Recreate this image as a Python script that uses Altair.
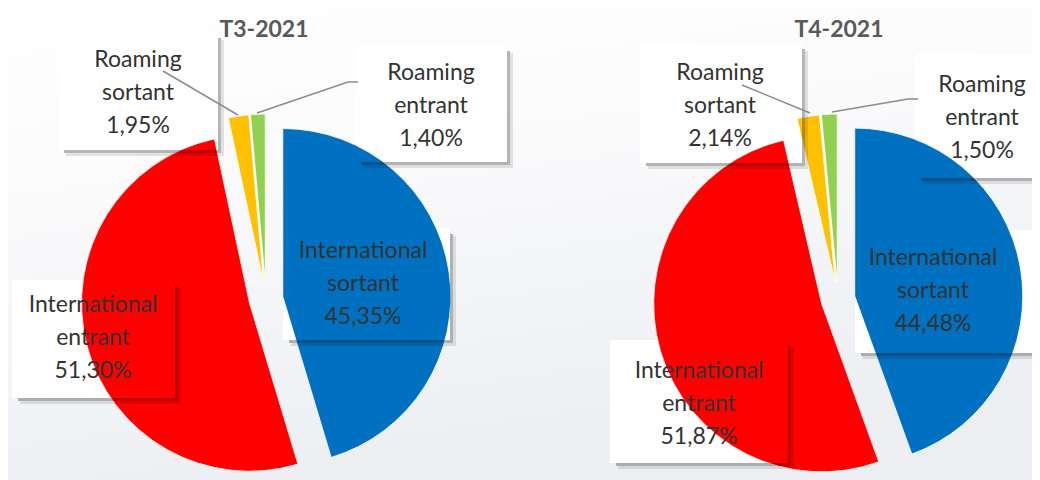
import altair as alt
import pandas as pd

# ---------------- data ----------------
quarters = ["T3-2021", "T4-2021"]
categories = ["International sortant", "International entrant", "Roaming sortant", "Roaming entrant"]
t3_values = [45.35, 51.30, 1.95, 1.40]
t4_values = [44.48, 51.87, 2.14, 1.50]
colors = ["#0070C0", "#FF0000", "#FFC000", "#92D050"]

# ---------------- layout (page pixel coordinates) ----------------
W, H = 1024, 472
pie_centers = {"T3-2021": (266, 299), "T4-2021": (838, 299)}
R = 168
EXPLODE = 17
title_pos = {"T3-2021": (264, 37), "T4-2021": (839, 37)}
LINE_H = 33
# box x1, y1, x2, y2, text centre x, first baseline y
label_layout = {
    ("T3-2021", "Roaming sortant"): (58, 32, 218, 150, 138, 67),
    ("T3-2021", "Roaming entrant"): (355, 45, 507, 162, 431, 80),
    ("T3-2021", "International sortant"): (283, 228, 450, 340, 363, 258),
    ("T3-2021", "International entrant"): (12, 280, 175, 398, 93, 312),
    ("T4-2021", "Roaming sortant"): (640, 43, 802, 163, 720, 80),
    ("T4-2021", "Roaming entrant"): (915, 53, 1060, 178, 982, 92),
    ("T4-2021", "International sortant"): (855, 230, 1060, 353, 933, 265),
    ("T4-2021", "International entrant"): (610, 340, 788, 463, 699, 378),
}
leaders = {
    ("T3-2021", "Roaming sortant"): [(163, 71), (238, 115)],
    ("T3-2021", "Roaming entrant"): [(358, 82), (348, 82), (257, 113)],
    ("T4-2021", "Roaming sortant"): [(742, 85), (810, 113)],
    ("T4-2021", "Roaming entrant"): [(918, 99), (908, 99), (832, 112)],
}

values_by_q = {"T3-2021": t3_values, "T4-2021": t4_values}


def fmt(v):
    return f"{v:.2f}".replace(".", ",") + "%"


# pie table
pie_rows = []
for q in quarters:
    cx, cy = pie_centers[q]
    for i, (c, v) in enumerate(zip(categories, values_by_q[q])):
        pie_rows.append({"quarter": q, "category": c, "value": v, "order": i, "cx": cx, "cy": cy})
pie_df = pd.DataFrame(pie_rows)

# label tables
box_rows, text_rows, shadow_in, shadow_out = [], [], [], []
for q in quarters:
    for c, v in zip(categories, values_by_q[q]):
        x1, y1, x2, y2, tx, ty = label_layout[(q, c)]
        box_rows.append({"x1": x1, "y1": y1, "x2": x2, "y2": y2})
        shadow_in.append({"x1": x2, "y1": y1 + 6, "x2": x2 + 3, "y2": y2 + 3})
        shadow_in.append({"x1": x1 + 6, "y1": y2, "x2": x2, "y2": y2 + 3})
        shadow_out.append({"x1": x2 + 3, "y1": y1 + 8, "x2": x2 + 6, "y2": y2 + 6})
        shadow_out.append({"x1": x1 + 8, "y1": y2 + 3, "x2": x2 + 3, "y2": y2 + 6})
        lines = c.split(" ") + [fmt(v)]
        for k, t in enumerate(lines):
            text_rows.append({"text": t, "x": tx, "y": ty + k * LINE_H})
box_df = pd.DataFrame(box_rows)
shin_df = pd.DataFrame(shadow_in)
shout_df = pd.DataFrame(shadow_out)
text_df = pd.DataFrame(text_rows)

lead_rows = []
for key, pts in leaders.items():
    for k, (x, y) in enumerate(pts):
        lead_rows.append({"key": "|".join(key), "i": k, "x": x, "y": y})
lead_df = pd.DataFrame(lead_rows)

title_df = pd.DataFrame([{"t": q, "x": title_pos[q][0], "y": title_pos[q][1]} for q in quarters])

# ---------------- scales ----------------
xs = alt.Scale(domain=[8, 8 + W], range=[0, W], nice=False, zero=False)
ys = alt.Scale(domain=[8, 8 + H], range=[0, H], nice=False, zero=False)


def X(f):
    return alt.X(f, scale=xs, axis=None)


def Y(f):
    return alt.Y(f, scale=ys, axis=None)


background = alt.Chart(pd.DataFrame({"a": [0]})).mark_rect(
    color=alt.Gradient(
        gradient="linear",
        stops=[alt.GradientStop(offset=0, color="#ffffff"),
               alt.GradientStop(offset=0.35, color="#fbfbfc"),
               alt.GradientStop(offset=1, color="#eceef2")],
        x1=0, x2=0.3, y1=0, y2=1,
    )
).encode(x=alt.value(0), x2=alt.value(W), y=alt.value(0), y2=alt.value(H))

boxes = alt.Chart(box_df).mark_rect(color="#ffffff").encode(
    x=X("x1:Q"), x2="x2:Q", y=Y("y1:Q"), y2="y2:Q"
)

pies = alt.Chart(pie_df).transform_window(
    cum="sum(value)", groupby=["quarter"], sort=[alt.SortField("order")], frame=[None, 0]
).transform_joinaggregate(
    total="sum(value)", groupby=["quarter"]
).transform_calculate(
    t0="(datum.cum - datum.value) / datum.total * 2 * PI",
    t1="datum.cum / datum.total * 2 * PI",
).transform_calculate(
    mid="(datum.t0 + datum.t1) / 2"
).transform_calculate(
    px=f"datum.cx + {EXPLODE} * sin(datum.mid)",
    py=f"datum.cy - {EXPLODE} * cos(datum.mid)",
).mark_arc(outerRadius=R, stroke="#ffffff", strokeWidth=0.8).encode(
    x=X("px:Q"), y=Y("py:Q"),
    theta=alt.Theta("t0:Q", scale=None), theta2="t1:Q",
    color=alt.Color("category:N", scale=alt.Scale(domain=categories, range=colors), legend=None),
)

sh_in = alt.Chart(shin_df).mark_rect(color="#000000", opacity=0.28).encode(
    x=X("x1:Q"), x2="x2:Q", y=Y("y1:Q"), y2="y2:Q"
)
sh_out = alt.Chart(shout_df).mark_rect(color="#000000", opacity=0.1).encode(
    x=X("x1:Q"), x2="x2:Q", y=Y("y1:Q"), y2="y2:Q"
)

lead = alt.Chart(lead_df).mark_line(color="#8c8c8c", strokeWidth=1.5).encode(
    x=X("x:Q"), y=Y("y:Q"), detail="key:N", order="i:Q"
)

texts = alt.Chart(text_df).mark_text(
    font="Lato", fontSize=23, color="#333333", align="center", baseline="alphabetic"
).encode(x=X("x:Q"), y=Y("y:Q"), text="text:N")

titles = alt.Chart(title_df).mark_text(
    font="Lato", fontSize=23, fontWeight="bold", color="#595959", align="center", baseline="alphabetic"
).encode(x=X("x:Q"), y=Y("y:Q"), text="t:N")

chart = alt.layer(background, boxes, pies, sh_out, sh_in, lead, texts, titles).properties(
    width=W, height=H, padding=0, autosize="none", background="#ffffff"
).configure_view(stroke=None)

chart.save("out.html", embed_options={"renderer": "svg", "actions": False})
